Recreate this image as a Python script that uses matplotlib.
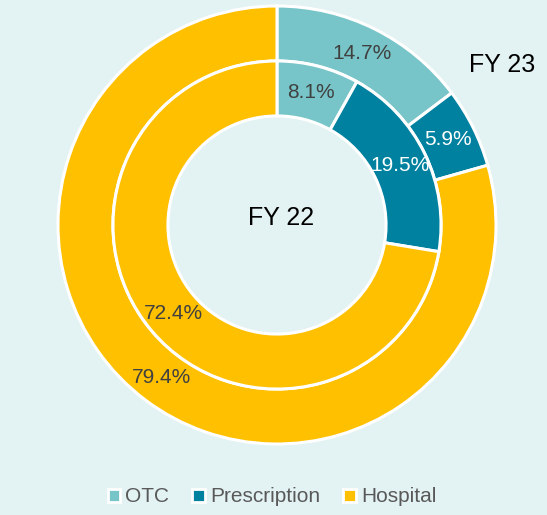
import matplotlib.pyplot as plt
from matplotlib.patches import Patch

categories = ["OTC", "Prescription", "Hospital"]
fy23 = [14.7, 5.9, 79.4]
fy22 = [8.1, 19.5, 72.4]
colors = ["#77c5c8", "#00819f", "#ffc000"]
text_colors = ["#404040", "white", "#404040"]

plt.rcParams["font.family"] = ["Liberation Sans Narrow", "Liberation Sans", "DejaVu Sans"]

bg = "#e3f2f2"
fig = plt.figure(figsize=(5.47, 5.15), dpi=100, facecolor=bg)
ax = fig.add_axes([58 / 547, 71 / 515, 438 / 547, 438 / 515])
ax.set_facecolor(bg)

wedge_style = dict(edgecolor="white", linewidth=2.2)

# outer ring: FY 23
w_out, _, t_out = ax.pie(fy23, radius=1.0, colors=colors, startangle=90, counterclock=False,
                         autopct="%1.1f%%", pctdistance=0.874,
                         wedgeprops=dict(width=0.251, **wedge_style))
# inner ring: FY 22
w_in, _, t_in = ax.pie(fy22, radius=0.749, colors=colors, startangle=90, counterclock=False,
                       autopct="%1.1f%%", pctdistance=0.832,
                       wedgeprops=dict(width=0.251, **wedge_style))

for texts in (t_out, t_in):
    for t, c in zip(texts, text_colors):
        t.set_color(c)
        t.set_fontsize(15)

ax.text(0.02, 0.03, "FY 22", ha="center", va="center", fontsize=18, color="black")
ax.text(1.03, 0.73, "FY 23", ha="center", va="center", fontsize=18, color="black")

ax.set_xlim(-1, 1)
ax.set_ylim(-1, 1)
ax.set_aspect("equal")
ax.axis("off")

handles = [Patch(facecolor=c, edgecolor="white", linewidth=2) for c in colors]
fig.legend(handles, categories, loc="center", bbox_to_anchor=(272 / 547, 1 - 497 / 515),
           ncol=3, frameon=False, fontsize=15, labelcolor="#595959",
           handlelength=0.6, handleheight=0.6, handletextpad=0.25, columnspacing=1.1)

fig.savefig("out.png", dpi=100, facecolor=bg)
